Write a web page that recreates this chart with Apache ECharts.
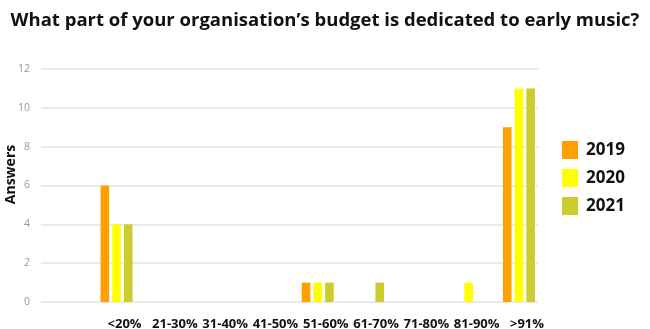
<!DOCTYPE html>
<html>
<head>
<meta charset="utf-8">
<script src="https://cdn.jsdelivr.net/npm/echarts@6/dist/echarts.min.js"></script>
<style>
  html, body { margin: 0; padding: 0; background: #fff; }
  #chart { width: 650px; height: 329px; }
</style>
</head>
<body>
<div id="chart"></div>
<script>
// Budget share bands and answer counts per survey year
const categories = ['<20%', '21-30%', '31-40%', '41-50%', '51-60%', '61-70%', '71-80%', '81-90%', '>91%'];
const years = ['2019', '2020', '2021'];
const answers2019 = [6, 0, 0, 0, 1, 0, 0, 0, 9];
const answers2020 = [4, 0, 0, 0, 1, 0, 0, 1, 11];
const answers2021 = [4, 0, 0, 0, 1, 1, 0, 0, 11];
const yTicks = [0, 2, 4, 6, 8, 10, 12];

const colors = ['#FFA000', '#FFFF00', '#CCCC2E'];
const seriesValues = [answers2019, answers2020, answers2021];
const FONT = '"Open Sans", "DejaVu Sans", sans-serif';

const chart = echarts.init(document.getElementById('chart'), null, { renderer: 'canvas' });

chart.setOption({
  animation: false,
  title: {
    text: 'What part of your organisation\u2019s budget is dedicated to early music?',
    left: 'center',
    top: 6,
    textStyle: { fontFamily: FONT, fontSize: 18.5, fontWeight: 'bold', color: '#111' }
  },
  legend: {
    orient: 'vertical',
    left: 557,
    top: 136,
    itemWidth: 16,
    itemHeight: 18,
    itemGap: 10,
    icon: 'rect',
    data: years,
    textStyle: { fontFamily: FONT, fontSize: 17, fontWeight: 'bold', color: '#111', padding: [0, 0, 0, 3] }
  },
  grid: [
    // background grid carrying the value scale and its guide lines
    { left: 41, right: 112, top: 69, bottom: 27, containLabel: false, outerBoundsMode: 'none' },
    // grid carrying the grouped bars and the band labels
    { left: 91.4, right: 105.9, top: 69, bottom: 27, containLabel: false, outerBoundsMode: 'none' }
  ],
  xAxis: [
    { gridIndex: 0, type: 'value', show: false, min: 0, max: 1 },
    {
      gridIndex: 1,
      type: 'category',
      data: categories,
      axisLine: { show: false },
      axisTick: { show: false },
      axisLabel: {
        interval: 0,
        margin: 16,
        fontFamily: FONT,
        fontSize: 13,
        fontWeight: 'bold',
        color: '#111',
        padding: [0, 0, 0, 16]
      }
    }
  ],
  yAxis: [
    {
      gridIndex: 0,
      type: 'value',
      min: yTicks[0],
      max: yTicks[yTicks.length - 1],
      interval: yTicks[1] - yTicks[0],
      name: 'Answers',
      nameLocation: 'middle',
      nameRotate: 90,
      nameGap: 23,
      nameMoveOverlap: false,
      nameTextStyle: { fontFamily: FONT, fontSize: 14, fontWeight: 'bold', color: '#111', padding: [0, 0, 0, 22] },
      axisLine: { show: false },
      axisTick: { show: false },
      axisLabel: { fontFamily: FONT, fontSize: 10.5, color: '#999', margin: 11 },
      splitLine: { lineStyle: { color: '#e3e3e3', width: 1.5 } }
    },
    {
      gridIndex: 1,
      type: 'value',
      min: yTicks[0],
      max: yTicks[yTicks.length - 1],
      show: false,
      splitLine: { show: false }
    }
  ],
  series: years.map((y, i) => ({
    name: y,
    type: 'bar',
    xAxisIndex: 1,
    yAxisIndex: 1,
    data: seriesValues[i],
    barWidth: 8.6,
    barGap: '36%',
    itemStyle: { color: colors[i] }
  }))
});
</script>
</body>
</html>
